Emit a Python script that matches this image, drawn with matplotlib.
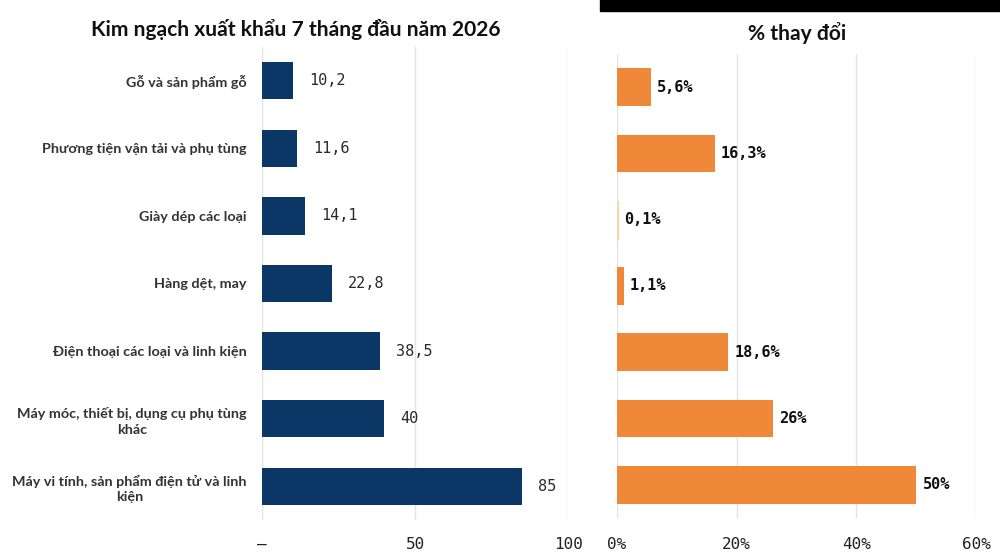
import matplotlib
matplotlib.use("Agg")
import matplotlib.pyplot as plt
from matplotlib.patches import Rectangle

categories = [
    "Gỗ và sản phẩm gỗ",
    "Phương tiện vận tải và phụ tùng",
    "Giày dép các loại",
    "Hàng dệt, may",
    "Điện thoại các loại và linh kiện",
    "Máy móc, thiết bị, dụng cụ phụ tùng\nkhác",
    "Máy vi tính, sản phẩm điện tử và linh\nkiện",
]
export_values = [10.2, 11.6, 14.1, 22.8, 38.5, 40, 85]
export_labels = ["10,2", "11,6", "14,1", "22,8", "38,5", "40", "85"]
change_values = [5.6, 16.3, 0.1, 1.1, 18.6, 26, 50]
change_labels = ["5,6%", "16,3%", "0,1%", "1,1%", "18,6%", "26%", "50%"]
left_ticks = [0, 50, 100]
left_tick_labels = ["–", "50", "100"]
right_ticks = [0, 20, 40, 60]
right_tick_labels = ["0%", "20%", "40%", "60%"]

title_left = "Kim ngạch xuất khẩu 7 tháng đầu năm 2026"
title_right = "% thay đổi"

W, H = 1000, 553
fig = plt.figure(figsize=(W / 100, H / 100), dpi=100)
fig.patch.set_facecolor("white")

navy = "#0b3766"
orange = "#f0883a"
grid_c = "#e3e3e3"
mono = "DejaVu Sans Mono"
sans = ["Lato", "DejaVu Sans"]

def px(x0, y0, x1, y1):
    return [x0 / W, 1 - y1 / H, (x1 - x0) / W, (y1 - y0) / H]

axL = fig.add_axes(px(262, 47, 568, 520))
axR = fig.add_axes(px(617, 54, 976, 518))

ypos = list(range(len(categories)))

axL.barh(ypos, export_values, height=0.55, color=navy, zorder=3)
bars_r = axR.barh(ypos, change_values, height=0.57, color=orange, zorder=3)
bars_r[2].set_color("#f3d9a8")

for ax in (axL, axR):
    ax.set_ylim(len(categories) - 0.5, -0.5)
    for s in ax.spines.values():
        s.set_visible(False)
    ax.grid(axis="x", color=grid_c, linewidth=1, zorder=0)
    ax.set_axisbelow(True)
    ax.tick_params(length=0)

axL.set_xlim(0, 100)
axL.set_xticks(left_ticks)
axL.set_xticklabels(left_tick_labels, fontfamily=mono, fontsize=11.5, color="#222222")
axL.tick_params(axis="x", pad=12)
axL.set_yticks(ypos)
axL.set_yticklabels(categories, family=sans, fontsize=10.4, fontweight="bold",
                    color="#333333", linespacing=1.35)
axL.tick_params(axis="y", pad=11)
for t in axL.get_yticklabels():
    t.set_multialignment("center")

axR.set_xlim(0, 60)
axR.set_xticks(right_ticks)
axR.set_xticklabels(right_tick_labels, fontfamily=mono, fontsize=11.5, color="#222222")
axR.tick_params(axis="x", pad=14)
axR.set_yticks([])

for y, v, lab in zip(ypos, export_values, export_labels):
    axL.annotate(lab, (v, y), xytext=(11.5, 0), textcoords="offset points",
                 va="center", ha="left", fontfamily=mono, fontsize=11, color="#2a2a2a")

for y, v, lab in zip(ypos, change_values, change_labels):
    axR.annotate(lab, (v, y), xytext=(4.5, 0), textcoords="offset points",
                 va="center", ha="left", fontfamily=mono, fontsize=11,
                 fontweight="bold", color="#111111")

fig.text(0.296, 1 - 30 / H, title_left, ha="center", va="center", family=sans,
         fontsize=15.1, fontweight="bold", color="#111111")
fig.text(0.797, 1 - 33 / H, title_right, ha="center", va="center", family=sans,
         fontsize=15.1, fontweight="bold", color="#111111")

fig.patches.append(Rectangle((600 / W, 1 - 11 / H), 400 / W, 11 / H,
                             transform=fig.transFigure, color="black", zorder=5))

fig.savefig("out.png", dpi=100)
